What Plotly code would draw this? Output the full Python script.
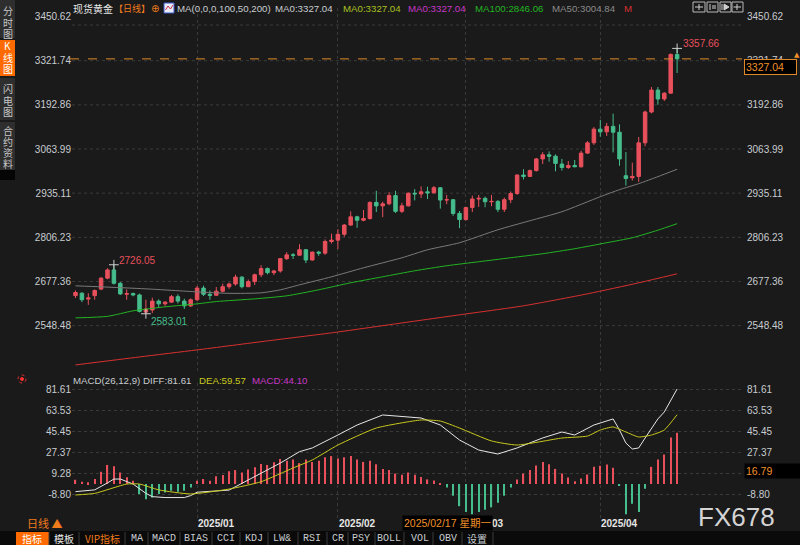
import plotly.graph_objects as go

# ---------------- data ----------------
opens = [2636, 2643, 2626, 2636, 2655, 2687, 2711, 2672, 2640, 2642,
         2638, 2588, 2594, 2620, 2612, 2617, 2633, 2620, 2606, 2624,
         2658, 2640, 2637, 2649, 2662, 2670, 2690, 2662, 2677, 2697,
         2715, 2703, 2708, 2744, 2755, 2754, 2770, 2740, 2763, 2760,
         2794, 2798, 2815, 2842, 2866, 2856, 2861, 2908, 2898, 2904,
         2928, 2882, 2898, 2935, 2933, 2939, 2936, 2951, 2915, 2916,
         2876, 2858, 2893, 2918, 2920, 2910, 2911, 2888, 2916, 2934,
         2988, 2984, 3001, 3035, 3047, 3043, 3020, 3010, 3016, 3012,
         3052, 3082, 3122, 3114, 3130, 3113, 2986, 2980, 2984, 3082,
         3172, 3236, 3210, 3227, 3340]
highs = [2651, 2646, 2643, 2654, 2690, 2716, 2726.05, 2676, 2654, 2645,
         2642, 2624, 2630, 2625, 2620, 2638, 2640, 2627, 2628, 2664,
         2665, 2651, 2661, 2671, 2674, 2697, 2693, 2683, 2700, 2725,
         2718, 2711, 2746, 2763, 2760, 2786, 2772, 2765, 2767, 2800,
         2817, 2830, 2845, 2882, 2869, 2886, 2911, 2942, 2910, 2938,
         2942, 2907, 2937, 2947, 2955, 2954, 2956, 2953, 2930, 2918,
         2883, 2895, 2928, 2930, 2925, 2930, 2915, 2922, 2940, 2990,
         3005, 3004, 3038, 3055, 3057, 3048, 3035, 3029, 3032, 3059,
         3087, 3128, 3149, 3140, 3167, 3136, 3055, 3024, 3099, 3176,
         3245, 3245, 3230, 3343, 3357.66]
lows = [2629, 2617, 2609, 2624, 2652, 2684, 2668, 2638, 2624, 2634,
        2587, 2583.01, 2585, 2600, 2606, 2615, 2613, 2597, 2603, 2620,
        2635, 2624, 2635, 2645, 2656, 2665, 2657, 2661, 2667, 2690,
        2698, 2696, 2703, 2740, 2743, 2753, 2731, 2738, 2752, 2755,
        2788, 2772, 2808, 2840, 2834, 2853, 2858, 2880, 2865, 2900,
        2877, 2877, 2896, 2914, 2921, 2918, 2934, 2890, 2903, 2869,
        2833, 2855, 2880, 2895, 2894, 2897, 2880, 2880, 2906, 2930,
        2975, 2982, 2998, 3020, 3027, 2999, 3001, 3006, 3011, 3010,
        3050, 3076, 3100, 3102, 3054, 3015, 2957, 2972, 2968, 3072,
        3168, 3193, 3204, 3226, 3286]
closes = [2645, 2624, 2629, 2651, 2687, 2711, 2672, 2641, 2642, 2638,
          2590, 2597, 2620, 2612, 2617, 2633, 2620, 2606, 2624, 2658,
          2640, 2637, 2649, 2662, 2670, 2690, 2662, 2677, 2697, 2715,
          2703, 2708, 2744, 2755, 2754, 2770, 2740, 2763, 2760, 2794,
          2798, 2815, 2842, 2866, 2856, 2861, 2908, 2898, 2904, 2928,
          2882, 2898, 2935, 2933, 2939, 2936, 2951, 2915, 2916, 2876,
          2858, 2893, 2918, 2920, 2910, 2911, 2888, 2916, 2934, 2988,
          2984, 3001, 3035, 3047, 3043, 3022, 3010, 3016, 3012, 3052,
          3082, 3122, 3114, 3130, 3113, 3035, 2978, 2984, 3082, 3172,
          3236, 3210, 3227, 3340, 3327.04]

month_pos = [19, 41, 61, 82]
month_labels = ['2025/01', '2025/02', '2025/03', '2025/04']

ma50_idx = [0, 4, 11, 19, 24, 29, 32, 35, 40, 45, 51, 55, 60, 66, 71, 76, 82, 85, 88, 91, 94]
ma50_val = [2664.6, 2661.7, 2655.8, 2647.0, 2642.7, 2644.1, 2652.9, 2667.5, 2690.9, 2717.2,
            2746.4, 2769.8, 2790.3, 2828.3, 2854.6, 2880.9, 2924.8, 2945.3, 2962.8, 2983.3, 3004.84]
ma100_idx = [0, 5, 9, 14, 19, 22, 28, 33, 38, 43, 48, 53, 58, 63, 68, 73, 78, 83, 87, 91, 94]
ma100_val = [2571.0, 2575.5, 2591.6, 2603.3, 2612.0, 2618.7, 2626.6, 2635.4, 2653.0, 2673.5,
             2691.0, 2708.5, 2723.2, 2734.9, 2746.6, 2758.3, 2772.9, 2790.4, 2805.0, 2827.0, 2846.06]
ma200_idx = [0, 10, 19, 30, 40, 50, 60, 70, 80, 88, 94]
ma200_val = [2433.7, 2457.0, 2477.6, 2503.9, 2527.3, 2553.6, 2579.9, 2606.3, 2641.2, 2673.4, 2699.7]

macd_hist = [3.7, 2.0, 1.5, 4.3, 10.6, 16.4, 15.2, 10.0, 5.8, 2.9,
             -8.6, -13.0, -11.5, -8.6, -7.2, -5.7, -6.6, -5.7, -2.9,
             2.9, 4.3, 2.9, 6.6, 7.8, 10.9, 12.0, 10.0, 12.4, 14.4, 17.2, 16.4, 18.7, 21.6, 20.0, 21.0, 18.0,
             21, 19, 20, 23, 24, 22, 23, 24, 21, 19, 20, 17, 13, 12, 9, 8, 10,
             8, 6, 4, 3, 1,
             -3, -10, -19, -24, -26, -24, -22, -20, -16, -10,
             -3, 4, 9, 12, 16, 19, 17, 13,
             9, 5.6, 2.4, 4.7, 8.2, 14.8, 15.7, 16.8, 14, -1, -26, -17, -24, -4, 14.8, 21, 25.4, 40, 44.1]
diff_idx = [0, 3, 5, 6, 7, 9, 11, 12, 14, 17, 18, 19, 24, 27, 29, 32, 35, 37, 41, 44, 48,
            54, 57, 60, 63, 66, 69, 73, 76, 78, 81, 84, 85, 86, 87, 88, 89, 90, 91, 92, 93, 94]
diff_val = [-6.5, -5.0, 1.0, 4.3, 4.3, 0.0, -8.0, -10.8, -11.6, -11.6, -9.9, -7.0, -5.2, 3.5, 9.5,
            18.0, 27.8, 31.0, 42.1, 50.7, 59.3, 56.7, 50.7, 37.8, 29.2, 25.8, 31.0, 39.6, 44.7,
            42.1, 50.7, 55.9, 46.4, 35.2, 30.1, 31.0, 39.5, 48.1, 55.9, 61.9, 72.2, 81.61]
dea_idx = [0, 3, 8, 10, 13, 18, 24, 29, 34, 37, 41, 47, 54, 57, 60, 65, 69, 76, 80, 82, 84, 86, 88, 90, 92, 94]
dea_val = [-9.4, -8.0, 0.0, 0.0, -5.0, -8.5, -4.3, 2.0, 13.8, 20.7, 33.5, 48.1, 55.0, 54.1, 48.1,
           37.0, 33.5, 39.5, 41.2, 46.4, 49.0, 44.7, 40.4, 42.1, 46.4, 59.57]

price_ticks = [3450.62, 3321.74, 3192.86, 3063.99, 2935.11, 2806.23, 2677.36, 2548.48]
macd_ticks = [81.61, 63.53, 45.45, 27.37, 9.28, -8.80]

last_price = 3327.04
hi_idx, hi_val = 94, 3357.66
pk_idx, pk_val = 6, 2726.05
lo_idx, lo_val = 11, 2583.01

toolbar_items = ['指标', '模板', 'VIP指标', 'MA', 'MACD', 'BIAS', 'CCI', 'KDJ', 'LW&',
                 'RSI', 'CR', 'PSY', 'BOLL', 'VOL', 'OBV', '设置']

# ---------------- styling ----------------
W, H = 800, 545
BG = '#1a1a1a'
RED = '#e8505c'
GREEN = '#45bd8c'
TXT = '#c8ccd0'
ORANGE = '#f07b1c'
GRID = '#3a3a3a'
FONT = 'Liberation Sans, Arial, Noto Sans CJK SC'
CJK = 'Noto Sans CJK SC'
MONO = 'Liberation Mono, DejaVu Sans Mono, Noto Sans CJK SC'


def PX(x):
    return x / W


def PY(y):
    return 1 - y / H


idx = list(range(len(closes)))

fig = go.Figure()

fig.add_trace(go.Candlestick(
    x=idx, open=opens, high=highs, low=lows, close=closes,
    increasing=dict(line=dict(color=RED, width=1), fillcolor=RED),
    decreasing=dict(line=dict(color=GREEN, width=1), fillcolor=GREEN),
    whiskerwidth=0, xaxis='x', yaxis='y', showlegend=False, hoverinfo='skip'))

for xi, yv, col in [(ma200_idx, ma200_val, '#d83030'),
                    (ma100_idx, ma100_val, '#22b422'),
                    (ma50_idx, ma50_val, '#7a7a7a')]:
    fig.add_trace(go.Scatter(x=xi, y=yv, mode='lines', xaxis='x', yaxis='y',
                             line=dict(color=col, width=1, shape='spline', smoothing=0.6),
                             showlegend=False, hoverinfo='skip'))

fig.add_trace(go.Scatter(x=[hi_idx, pk_idx, lo_idx], y=[hi_val, pk_val, lo_val], mode='markers',
                         marker=dict(symbol='cross-thin', size=7, line=dict(color='#cfcfcf', width=1)),
                         xaxis='x', yaxis='y', showlegend=False, hoverinfo='skip'))

fig.add_trace(go.Bar(x=idx, y=macd_hist, width=0.2,
                     marker=dict(color=[RED if v >= 0 else GREEN for v in macd_hist], line=dict(width=0)),
                     xaxis='x2', yaxis='y2', showlegend=False, hoverinfo='skip'))
fig.add_trace(go.Scatter(x=diff_idx, y=diff_val, mode='lines', xaxis='x2', yaxis='y2',
                         line=dict(color='#e6e6e6', width=1), showlegend=False, hoverinfo='skip'))
fig.add_trace(go.Scatter(x=dea_idx, y=dea_val, mode='lines', xaxis='x2', yaxis='y2',
                         line=dict(color='#c8c81e', width=1, shape='spline', smoothing=0.5),
                         showlegend=False, hoverinfo='skip'))

XR = [-0.547, 104.14]
XD = [PX(72), PX(742)]
MAIN_R = [2413.06, 3475.58]
MAIN_D = [PY(372), PY(8)]
MACD_R = [-30.01, 86.76]
MACD_D = [PY(519), PY(383)]

tickfont = dict(family=FONT, size=10, color=TXT)
xcommon = dict(range=XR, domain=XD, showticklabels=False, tickvals=month_pos, showgrid=True,
               gridcolor=GRID, griddash='dot', gridwidth=1, zeroline=False, showline=False,
               ticks='', fixedrange=True)

fig.update_layout(
    width=W, height=H, margin=dict(l=0, r=0, t=0, b=0),
    paper_bgcolor=BG, plot_bgcolor=BG, hovermode=False, showlegend=False, boxgap=0.22,
    xaxis=dict(anchor='y', rangeslider=dict(visible=False), **xcommon),
    xaxis2=dict(anchor='y2', **xcommon),
    yaxis=dict(domain=MAIN_D, range=MAIN_R, anchor='x', side='left', tickvals=price_ticks,
               ticktext=[f'{v:.2f}' for v in price_ticks], tickfont=tickfont, ticks='',
               showgrid=False, zeroline=False, fixedrange=True),
    yaxis3=dict(overlaying='y', range=MAIN_R, anchor='x', side='right', tickvals=price_ticks,
                ticktext=[f'{v:.2f}' for v in price_ticks], tickfont=tickfont, ticks='',
                ticklabelstandoff=4, showgrid=False, zeroline=False, fixedrange=True),
    yaxis2=dict(domain=MACD_D, range=MACD_R, anchor='x2', side='left', tickvals=macd_ticks,
                ticktext=[f'{v:.2f}' for v in macd_ticks], tickfont=tickfont, ticks='',
                showgrid=True, gridcolor=GRID, griddash='dot', zeroline=False, fixedrange=True),
    yaxis4=dict(overlaying='y2', range=MACD_R, anchor='x2', side='right', tickvals=macd_ticks,
                ticktext=[f'{v:.2f}' for v in macd_ticks], tickfont=tickfont, ticks='',
                ticklabelstandoff=4, showgrid=False, zeroline=False, fixedrange=True),
)
# invisible traces so the overlay axes render
fig.add_trace(go.Scatter(x=[0], y=[MAIN_R[0]], mode='markers', marker=dict(opacity=0),
                         xaxis='x', yaxis='y3', showlegend=False, hoverinfo='skip'))
fig.add_trace(go.Scatter(x=[0], y=[MACD_R[0]], mode='markers', marker=dict(opacity=0),
                         xaxis='x2', yaxis='y4', showlegend=False, hoverinfo='skip'))

shapes = []
ann = []


def rect(x0, y0, x1, y1, fill, line=None, lw=0, layer='above'):
    shapes.append(dict(type='rect', xref='paper', yref='paper', x0=PX(x0), x1=PX(x1),
                       y0=PY(y1), y1=PY(y0), fillcolor=fill, layer=layer,
                       line=dict(color=line or fill, width=lw)))


def text(x, y, s, color, size=10, anchor='left', family=FONT, **kw):
    ann.append(dict(xref='paper', yref='paper', x=PX(x), y=PY(y), text=s, showarrow=False,
                    xanchor=anchor, yanchor='middle', font=dict(color=color, size=size, family=family),
                    **kw))


# horizontal grid lines of the price panel (top label has none) + top border line
for v in price_ticks[1:]:
    shapes.append(dict(type='line', xref='paper', yref='y', x0=PX(72), x1=PX(742), y0=v, y1=v,
                       layer='below', line=dict(color=GRID, width=1, dash='dot')))
shapes.append(dict(type='line', xref='paper', yref='paper', x0=PX(72), x1=PX(742), y0=PY(25), y1=PY(25),
                   layer='below', line=dict(color=GRID, width=1, dash='dot')))

# current price dashed line
shapes.append(dict(type='line', xref='paper', yref='y', x0=PX(70), x1=PX(742), y0=last_price,
                   y1=last_price, line=dict(color='#e08a2a', width=1, dash='dash')))

# left sidebar tabs
rect(0, 0, 15, 38, '#2e2e2e')
rect(0, 40, 15, 76, '#ff6a00')
rect(0, 78, 15, 120, '#2e2e2e')
rect(0, 122, 15, 170, '#2e2e2e')
rect(0, 170, 15, 180, '#050505')
for ch, yy, col in [('分', 10.5, '#c8c8c8'), ('时', 22, '#c8c8c8'), ('图', 33.5, '#c8c8c8'),
                    ('K', 45.5, '#ffffff'), ('线', 57.5, '#ffffff'), ('图', 69, '#ffffff'),
                    ('闪', 89, '#c8c8c8'), ('电', 101, '#c8c8c8'), ('图', 111.5, '#c8c8c8'),
                    ('合', 130, '#c8c8c8'), ('约', 141.5, '#c8c8c8'), ('资', 153, '#c8c8c8'),
                    ('料', 163.5, '#c8c8c8')]:
    text(7.5, yy, ch, col, size=10, anchor='center', family=CJK)

# title legend row
text(71, 8, '现货黄金', '#e6e6e6', size=10, family=CJK)
text(112, 8, '【日线】', ORANGE, size=9, family=CJK)
text(149, 8, '⊕', ORANGE, size=10, family='DejaVu Sans')
rect(164, 3, 174, 13, '#e8ecf8', '#3a58c8', 1)
shapes.append(dict(type='path', xref='paper', yref='paper',
                   path=f'M {PX(165.5)} {PY(10)} L {PX(168)} {PY(6)} L {PX(170.5)} {PY(9)} L {PX(173)} {PY(5)}',
                   line=dict(color='#d03040', width=1)))
legend_items = [(175, 'MA(0,0,0,100,50,200)', TXT), (273, 'MA0:3327.04', TXT),
                (341, 'MA0:3327.04', '#a8c020'), (406, 'MA0:3327.04', '#c838c8'),
                (473, 'MA100:2846.06', '#22b422'), (550, 'MA50:3004.84', '#8a8a8a'),
                (622, 'M', '#d83030')]
for x0, s, c in legend_items:
    text(x0, 8, s, c, size=9.7)

# top-right icons
for x0, x1 in [(693, 705), (707, 718), (720, 731), (732, 743)]:
    rect(x0, 2, x1, 12, 'rgba(0,0,0,0)', '#b8b8b8', 1)
for (a, b, c, d) in [(699, 4, 699, 10), (695, 7, 703, 7), (710, 4, 710, 10), (712, 6, 716, 6),
                     (712, 8, 716, 8), (722, 4, 722, 10), (733.5, 7, 741, 7), (737, 4, 737, 10)]:
    shapes.append(dict(type='line', xref='paper', yref='paper', x0=PX(a), x1=PX(c), y0=PY(b), y1=PY(d),
                       line=dict(color='#d0d0d0', width=1)))
shapes.append(dict(type='path', xref='paper', yref='paper',
                   path=f'M {PX(724)} {PY(4)} L {PX(729)} {PY(7)} L {PX(724)} {PY(10)} Z',
                   fillcolor='#d0d0d0', line=dict(color='#d0d0d0', width=1)))

# high / low labels
ann.append(dict(xref='x', yref='y', x=hi_idx, y=hi_val, text=f'{hi_val:.2f}', showarrow=False,
                xanchor='left', yanchor='middle', xshift=4, yshift=5,
                font=dict(color=RED, size=10, family=FONT)))
ann.append(dict(xref='x', yref='y', x=pk_idx, y=pk_val, text=f'{pk_val:.2f}', showarrow=False,
                xanchor='left', yanchor='middle', xshift=3, yshift=4,
                font=dict(color=RED, size=10, family=FONT)))
ann.append(dict(xref='x', yref='y', x=lo_idx, y=lo_val, text=f'{lo_val:.2f}', showarrow=False,
                xanchor='left', yanchor='middle', xshift=3, yshift=-8,
                font=dict(color=GREEN, size=10, family=FONT)))

# current price box
ann.append(dict(xref='paper', yref='paper', x=PX(744), y=PY(67), text=f'{last_price:.2f}',
                showarrow=False, xanchor='left', yanchor='middle', align='left', width=49, height=12,
                bgcolor='#000000', bordercolor='#e08a2a', borderwidth=1, borderpad=1,
                font=dict(color='#f0902a', size=10.5, family=FONT)))
text(792, 55, '▲', '#f0902a', size=7, family='DejaVu Sans')

# MACD legend
shapes.append(dict(type='circle', xref='paper', yref='paper', x0=PX(18), x1=PX(26), y0=PY(383), y1=PY(375),
                   line=dict(color='#e03030', width=1, dash='dot')))
shapes.append(dict(type='circle', xref='paper', yref='paper', x0=PX(20.5), x1=PX(23.5), y0=PY(380.5),
                   y1=PY(377.5), fillcolor='#ff3030', line=dict(color='#ff3030', width=1)))
text(71, 380, 'MACD(26,12,9) DIFF:81.61', TXT, size=9.7)
text(197, 380, 'DEA:59.57', '#c8c81e', size=9.7)
text(250, 380, 'MACD:44.10', '#c838c8', size=9.7)

# MACD current value box
ann.append(dict(xref='paper', yref='paper', x=PX(744), y=PY(471), text='16.79', showarrow=False,
                xanchor='left', yanchor='middle', align='left', width=54, height=12, bgcolor='#000000',
                borderpad=1, font=dict(color='#f0902a', size=10.5, family=FONT)))

# month labels
for p, lab in zip(month_pos, month_labels):
    ann.append(dict(xref='x2', yref='paper', x=p, y=PY(523), text=f'<b>{lab}</b>', showarrow=False,
                    xanchor='left', yanchor='middle', xshift=-1,
                    font=dict(color='#e6e6e6', size=10, family=FONT)))
# crosshair date label
text(402, 523, '2025/02/17 星期一', '#f0902a', size=10.5, family=FONT, bgcolor='#000000', borderpad=1)

text(25, 523, '日线 ▲', ORANGE, size=11, family=CJK)

# watermark
text(736, 517, 'FX678', '#d4d4d4', size=26, anchor='center', family=FONT)

# bottom toolbar
rect(0, 531, 800, 545, '#0a0a0a')
rect(16, 532, 49, 545, '#ff6a00')
tb_pos = [(32, '#ffffff'), (64, '#e8e8e8'), (102, ORANGE), (137, TXT), (164, TXT), (196, TXT),
          (226, TXT), (254, TXT), (282, TXT), (312, TXT), (338, TXT), (361, TXT), (389, TXT),
          (420, TXT), (448, TXT), (477, TXT)]
seps = [49, 79, 125, 148, 180, 212, 240, 268, 298, 327, 348, 375, 404, 433, 462, 493]
for sx in seps:
    shapes.append(dict(type='line', xref='paper', yref='paper', x0=PX(sx), x1=PX(sx), y0=PY(545),
                       y1=PY(532), line=dict(color='#3a3a3a', width=1)))
for (cx, col), lab in zip(tb_pos, toolbar_items):
    fam = CJK if any(ord(ch) > 127 for ch in lab) else MONO
    text(cx, 538.5, lab, col, size=10, anchor='center', family=fam)

fig.update_layout(shapes=shapes, annotations=ann)
fig.write_html('out.html', config={'displayModeBar': False},
               post_script="document.body.style.margin='0';document.body.style.padding='0';"
                           "document.body.style.overflow='hidden';")
